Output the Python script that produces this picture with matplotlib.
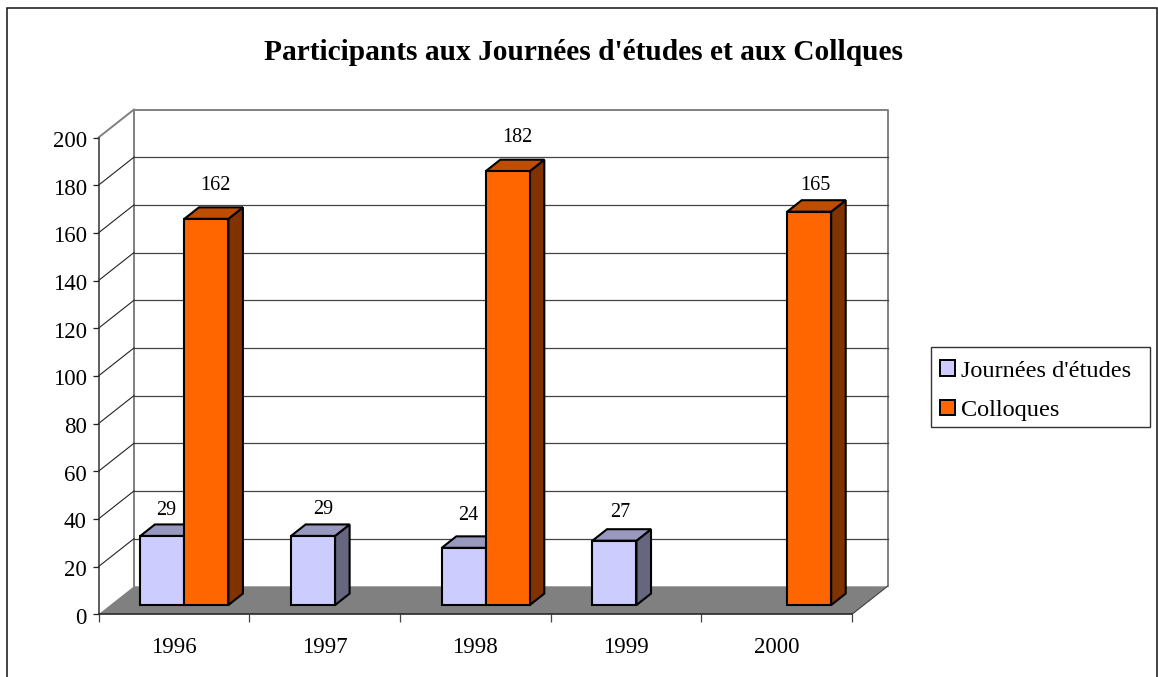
import matplotlib
matplotlib.use('Agg')
import matplotlib.pyplot as plt
from matplotlib.patches import Polygon, Patch, Rectangle
from matplotlib.transforms import ScaledTranslation

plt.rcParams['font.family'] = ['Liberation Serif', 'DejaVu Serif']

# Data
years = ['1996', '1997', '1998', '1999', '2000']
journees = [29, 29, 24, 27, None]
colloques = [162, None, 182, None, 165]

# little nudges for the value labels (points, x and y above the bar top)
journees_nudge = [(2.5, 18.5), (7, 19), (3.5, 23), (4.5, 20), (0, 0)]
colloques_nudge = [(6.5, 24), (0, 0), (7, 24.5), (0, 0), (4.5, 19)]

W, H = 1158, 677
fig = plt.figure(figsize=(W / 100, H / 100), dpi=100)
fig.patch.set_facecolor('white')

# the front plane of the fake 3D box
left, right, bottom, top = 98.5, 852, 614.3, 137.5
ax = fig.add_axes([left / W, 1 - bottom / H, (right - left) / W, (bottom - top) / H])
ax.set_xlim(0, 5)
ax.set_ylim(0, 200)
ax.patch.set_visible(False)

# depth of the box in data units
dx = 35.5 / ((right - left) / 5)
dy = 28 / ((bottom - top) / 200)
bar_w = 44 / ((right - left) / 5)
bar_start = 0.2
d_front, d_back = 0.33, 0.74


def shape(points, color, z, lw=0, edge='none'):
    ax.add_patch(Polygon(points, closed=True, facecolor=color, edgecolor=edge,
                         linewidth=lw, clip_on=False, zorder=z, joinstyle='miter'))


# outer frame, runs off the bottom of the picture
fig.add_artist(Rectangle((7.5 / W, -0.05), (1157 - 7.5) / W, 1.05 - 7.5 / H, fill=False,
                         edgecolor='#111111', linewidth=1.1, transform=fig.transFigure))

# floor and walls
shape([(0, 0), (5, 0), (5 + dx, dy), (dx, dy)], '#808080', 1)
ax.plot([dx, dx, 5 + dx, 5 + dx], [dy, 200 + dy, 200 + dy, dy], color='#808080', lw=1.4,
        clip_on=False, zorder=2)
ax.plot([0, dx], [200, 200 + dy], color='#808080', lw=1.4, clip_on=False, zorder=2)
ax.plot([5, 5 + dx], [0, dy], color='#404040', lw=0.8, clip_on=False, zorder=2)

# gridlines on the back wall and the side wall
for v in range(20, 200, 20):
    ax.plot([dx, 5 + dx], [v + dy, v + dy], color='#444444', lw=0.9, clip_on=False, zorder=2)
    ax.plot([0, dx], [v, v + dy], color='#222222', lw=0.8, clip_on=False, zorder=2)


def bar3d(x, v, front, side, roof):
    x0 = x + d_front * dx
    x1 = x0 + bar_w
    y0 = d_front * dy
    y1 = v + d_front * dy
    ox = (d_back - d_front) * dx
    oy = (d_back - d_front) * dy
    shape([(x1, y0), (x1 + ox, y0 + oy), (x1 + ox, y1 + oy), (x1, y1)], side, 3, 1.5, 'black')
    shape([(x0, y1), (x1, y1), (x1 + ox, y1 + oy), (x0 + ox, y1 + oy)], roof, 3, 1.5, 'black')
    shape([(x0, y0), (x1, y0), (x1, y1), (x0, y1)], front, 3, 1.5, 'black')
    return (x0 + x1) / 2, y1


for i, year in enumerate(years):
    if journees[i] is not None:
        cx, cy = bar3d(i + bar_start, journees[i], '#CCCCFF', '#666680', '#9999BF')
        ax.annotate(str(journees[i]), (cx, cy), xytext=journees_nudge[i], textcoords='offset points',
                    ha='center', va='center', fontsize=14.5, zorder=4, annotation_clip=False)
    if colloques[i] is not None:
        cx, cy = bar3d(i + bar_start + bar_w, colloques[i], '#FF6600', '#803300', '#BF4D00')
        ax.annotate(str(colloques[i]), (cx, cy), xytext=colloques_nudge[i], textcoords='offset points',
                    ha='center', va='center', fontsize=14.5, zorder=4, annotation_clip=False)

# axes
for s in ['top', 'right']:
    ax.spines[s].set_visible(False)
ax.spines['left'].set_color('#333333')
ax.spines['bottom'].set_color('#222222')
ax.spines['left'].set_linewidth(1.1)
ax.spines['bottom'].set_linewidth(1.1)
ax.spines['left'].set_zorder(5)
ax.spines['bottom'].set_zorder(5)
ax.set_yticks(range(0, 201, 20))
ax.tick_params(axis='y', length=4.5, width=0.9, color='#222222', labelsize=16.5, pad=4)
ax.set_xticks(range(6))
ax.set_xticklabels([])
ax.tick_params(axis='x', length=5.5, width=0.9, color='#444444')
ax.set_xticks([i + 0.5 for i in range(5)], minor=True)
ax.set_xticklabels(years, minor=True, fontsize=16.5)
ax.tick_params(axis='x', which='minor', length=0, pad=16)
for label in ax.get_yticklabels():
    label.set_transform(label.get_transform() + ScaledTranslation(0, -1.5 / 100, fig.dpi_scale_trans))

fig.text(583 / W, 1 - 52.5 / H, "Participants aux Journées d'études et aux Collques", ha='center',
         va='center', fontsize=21.2, fontweight='bold')

# legend box drawn on its own because the text is tighter than the original box
fig.add_artist(Rectangle((931 / W, 1 - 427 / H), (1150 - 931) / W, 80 / H, facecolor='white',
                         edgecolor='#333333', linewidth=1.0, transform=fig.transFigure, zorder=2))
handles = [Patch(facecolor='#CCCCFF', edgecolor='black', linewidth=1.4, label="Journées d'études"),
           Patch(facecolor='#FF6600', edgecolor='black', linewidth=1.4, label='Colloques')]
legend = fig.legend(handles=handles, loc='upper left', bbox_to_anchor=(931 / W, 1 - 351 / H),
                    bbox_transform=fig.transFigure, fontsize=17.5, frameon=False, borderaxespad=0,
                    borderpad=0.39, labelspacing=0.75, handlelength=0.58, handleheight=0.58,
                    handletextpad=0.25)
legend.set_zorder(3)

fig.savefig('out.png', dpi=100)
